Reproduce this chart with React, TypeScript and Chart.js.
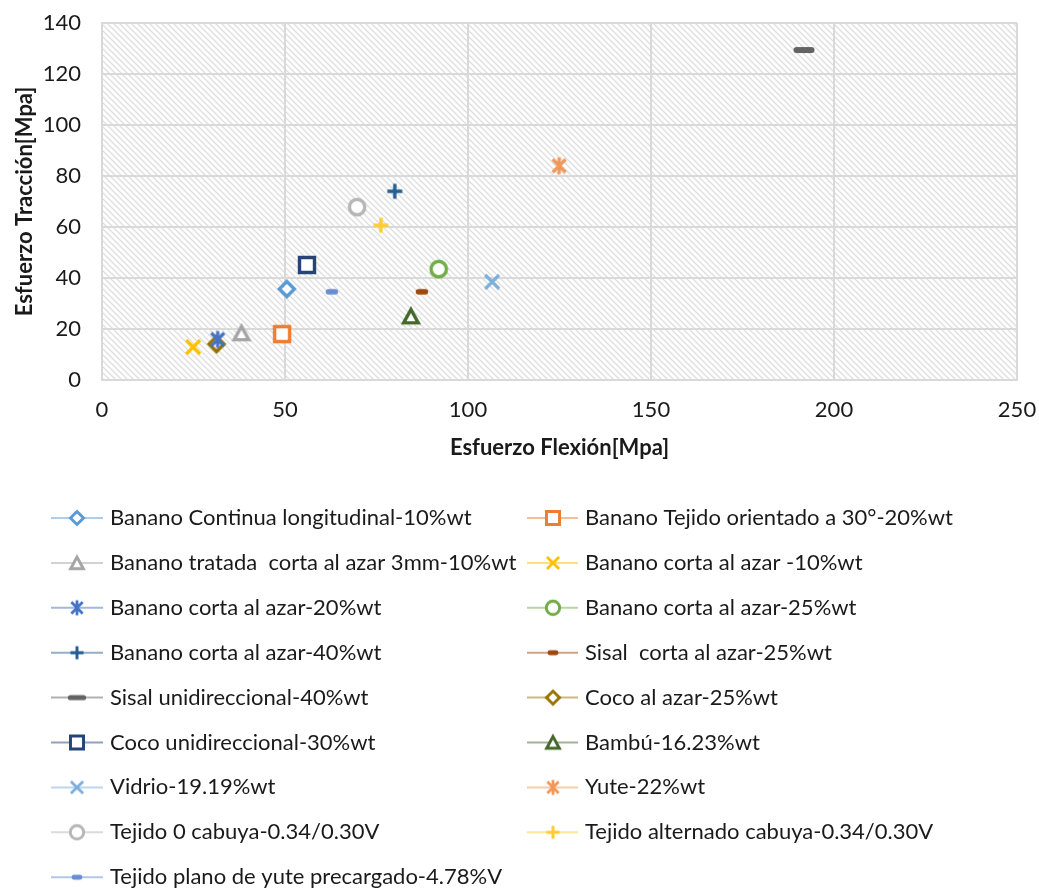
import React, { useEffect, useRef } from 'react';
import { Chart, registerables } from 'chart.js';
Chart.register(...registerables);

const seriesNames = [
  'Banano Continua longitudinal-10%wt',
  'Banano Tejido orientado a 30°-20%wt',
  'Banano tratada  corta al azar 3mm-10%wt',
  'Banano corta al azar -10%wt',
  'Banano corta al azar-20%wt',
  'Banano corta al azar-25%wt',
  'Banano corta al azar-40%wt',
  'Sisal  corta al azar-25%wt',
  'Sisal unidireccional-40%wt',
  'Coco al azar-25%wt',
  'Coco unidireccional-30%wt',
  'Bambú-16.23%wt',
  'Vidrio-19.19%wt',
  'Yute-22%wt',
  'Tejido 0 cabuya-0.34/0.30V',
  'Tejido alternado cabuya-0.34/0.30V',
  'Tejido plano de yute precargado-4.78%V',
];
const flexion = [50.5, 49.2, 38.1, 24.9, 31.6, 92, 80, 87.4, 191.8, 31.3, 56, 84.4, 106.6, 124.9, 69.7, 76.2, 62.8];
const traccion = [35.7, 18, 18.4, 12.9, 15.9, 43.5, 74, 34.6, 129.4, 14.1, 45.1, 25, 38.5, 84, 67.8, 60.7, 34.6];
const seriesColors = [
  '#5B9BD5', '#ED7D31', '#A5A5A5', '#FFC000', '#4472C4', '#70AD47',
  '#255E91', '#9E480E', '#636363', '#997300', '#264478', '#43682B',
  '#7CAFDD', '#F1975A', '#B7B7B7', '#FFCD33', '#698ED0',
];
const markerKinds = [
  'diamond', 'square', 'triangle', 'x', 'star', 'circle',
  'plus', 'dash', 'dashWide', 'diamond', 'square', 'triangle',
  'x', 'star', 'circle', 'plus', 'dash',
];
const xTicks = [0, 50, 100, 150, 200, 250];
const yTicks = [0, 20, 40, 60, 80, 100, 120, 140];
const xTitle = 'Esfuerzo Flexión[Mpa]';
const yTitle = 'Esfuerzo Tracción[Mpa]';

const FONT = 'Lato, "Open Sans", sans-serif';

function makeMarker(kind: string, color: string, scale: number): HTMLCanvasElement {
  const S = 30;
  const c = document.createElement('canvas');
  c.width = S;
  c.height = S;
  const ctx = c.getContext('2d')!;
  ctx.translate(S / 2, S / 2);
  ctx.scale(scale, scale);
  ctx.strokeStyle = color;
  ctx.fillStyle = '#ffffff';
  ctx.lineWidth = 3.4;
  ctx.lineJoin = 'miter';
  ctx.beginPath();
  switch (kind) {
    case 'diamond':
      ctx.moveTo(0, -7.5); ctx.lineTo(7.5, 0); ctx.lineTo(0, 7.5); ctx.lineTo(-7.5, 0); ctx.closePath();
      ctx.fill(); ctx.stroke();
      break;
    case 'square':
      ctx.rect(-7.5, -7.5, 15, 15);
      ctx.fill(); ctx.stroke();
      break;
    case 'triangle':
      ctx.moveTo(0, -6.8); ctx.lineTo(7.3, 6.6); ctx.lineTo(-7.3, 6.6); ctx.closePath();
      ctx.fill(); ctx.stroke();
      break;
    case 'circle':
      ctx.arc(0, 0, 7.7, 0, Math.PI * 2);
      ctx.fill(); ctx.stroke();
      break;
    case 'x':
      ctx.lineWidth = 3.2;
      ctx.moveTo(-7, -7); ctx.lineTo(7, 7); ctx.moveTo(7, -7); ctx.lineTo(-7, 7);
      ctx.stroke();
      break;
    case 'star':
      ctx.lineWidth = 3.2;
      ctx.moveTo(-6.5, -6.5); ctx.lineTo(6.5, 6.5); ctx.moveTo(6.5, -6.5); ctx.lineTo(-6.5, 6.5);
      ctx.moveTo(0, -8.5); ctx.lineTo(0, 8.5);
      ctx.stroke();
      break;
    case 'plus':
      ctx.lineWidth = 3.4;
      ctx.moveTo(-7.5, 0); ctx.lineTo(7.5, 0); ctx.moveTo(0, -7.5); ctx.lineTo(0, 7.5);
      ctx.stroke();
      break;
    case 'dash':
      ctx.lineCap = 'round';
      ctx.lineWidth = 5.5;
      ctx.moveTo(-3.5, 0); ctx.lineTo(3.5, 0);
      ctx.stroke();
      break;
    case 'dashWide':
      ctx.lineCap = 'round';
      ctx.lineWidth = 6;
      ctx.moveTo(-7.5, 0); ctx.lineTo(7.5, 0);
      ctx.stroke();
      break;
  }
  return c;
}

function makePattern(ctx: CanvasRenderingContext2D): CanvasPattern | string {
  const t = document.createElement('canvas');
  const N = 6;
  t.width = N;
  t.height = N;
  const c = t.getContext('2d')!;
  c.fillStyle = '#ffffff';
  c.fillRect(0, 0, N, N);
  c.strokeStyle = '#dedede';
  c.lineWidth = 1.3;
  c.beginPath();
  for (let k = -1; k <= 1; k++) {
    c.moveTo(k * N - 1, -1);
    c.lineTo(k * N + N + 1, N + 1);
  }
  c.stroke();
  return ctx.createPattern(t, 'repeat') || '#eeeeee';
}

function withAlpha(hex: string, a: number): string {
  const r = parseInt(hex.slice(1, 3), 16);
  const g = parseInt(hex.slice(3, 5), 16);
  const b = parseInt(hex.slice(5, 7), 16);
  return `rgba(${r},${g},${b},${a})`;
}

export default function App() {
  const ref = useRef<HTMLCanvasElement>(null);
  useEffect(() => {
    const canvas = ref.current!;
    const plotMarkers = seriesColors.map((c, i) => makeMarker(markerKinds[i], c, 1));
    const legendMarkers = seriesColors.map((c, i) => makeMarker(markerKinds[i], c, 0.87));

    const bgPlugin = {
      id: 'hatchBg',
      beforeDraw(chart: any) {
        const { ctx, chartArea } = chart;
        ctx.save();
        ctx.fillStyle = '#ffffff';
        ctx.fillRect(0, 0, chart.width, chart.height);
        ctx.fillStyle = makePattern(ctx);
        ctx.fillRect(chartArea.left, chartArea.top, chartArea.right - chartArea.left, chartArea.bottom - chartArea.top);
        ctx.restore();
      },
    };

    const legendPlugin = {
      id: 'customLegend',
      afterDraw(chart: any) {
        const ctx = chart.ctx as CanvasRenderingContext2D;
        ctx.save();
        const cols = [
          { l0: 51, l1: 103, m: 77, t: 110 },
          { l0: 527, l1: 578, m: 553, t: 585 },
        ];
        const y0 = 518;
        const dy = 44.9;
        seriesNames.forEach((name, i) => {
          const col = cols[i % 2];
          const y = y0 + Math.floor(i / 2) * dy;
          ctx.strokeStyle = withAlpha(seriesColors[i], 0.5);
          ctx.lineWidth = 2;
          ctx.beginPath();
          ctx.moveTo(col.l0, y);
          ctx.lineTo(col.l1, y);
          ctx.stroke();
          const mk = legendMarkers[i];
          ctx.drawImage(mk, col.m - mk.width / 2, y - mk.height / 2);
          ctx.fillStyle = '#1a1a1a';
          ctx.font = `22px ${FONT}`;
          ctx.textBaseline = 'middle';
          ctx.textAlign = 'left';
          ctx.fillText(name, col.t, y);
        });
        ctx.restore();
      },
    };

    const datasets = seriesNames.map((name, i) => ({
      label: name,
      data: [{ x: flexion[i], y: traccion[i] }],
      pointStyle: plotMarkers[i] as any,
      pointRadius: 10,
      pointHoverRadius: 10,
      borderColor: seriesColors[i],
      backgroundColor: seriesColors[i],
      showLine: false,
    }));

    const chart = new Chart(canvas, {
      type: 'scatter',
      data: { datasets },
      options: {
        animation: false,
        responsive: false,
        maintainAspectRatio: false,
        events: [],
        layout: { padding: { top: 23, right: 22, bottom: 418, left: 0 } },
        plugins: {
          legend: { display: false },
          tooltip: { enabled: false },
        },
        scales: {
          x: {
            type: 'linear',
            min: 0,
            max: 250,
            afterBuildTicks: (s: any) => { s.ticks = xTicks.map((v) => ({ value: v })); },
            afterFit: (s: any) => { s.height = 90; s.paddingLeft = 0; s.paddingRight = 0; },
            grid: { color: '#d9d9d9', lineWidth: 2, drawTicks: false },
            border: { display: true, color: '#d9d9d9', width: 2 },
            ticks: { padding: 17, color: '#1a1a1a', font: { family: FONT, size: 22 }, maxRotation: 0 },
            title: {
              display: true,
              text: xTitle,
              color: '#1a1a1a',
              font: { family: FONT, size: 22, weight: 'bold' },
              padding: { top: 0, bottom: 9 },
            },
          },
          y: {
            type: 'linear',
            min: 0,
            max: 140,
            afterBuildTicks: (s: any) => { s.ticks = yTicks.map((v) => ({ value: v })); },
            afterFit: (s: any) => { s.width = 102; s.paddingTop = 0; s.paddingBottom = 0; },
            grid: { color: '#d9d9d9', lineWidth: 2, drawTicks: false },
            border: { display: true, color: '#d9d9d9', width: 2 },
            ticks: { padding: 21, color: '#1a1a1a', font: { family: FONT, size: 22 } },
            title: {
              display: true,
              text: yTitle,
              color: '#1a1a1a',
              font: { family: FONT, size: 22, weight: 'bold' },
              padding: { top: 12, bottom: 0 },
            },
          },
        },
      },
      plugins: [bgPlugin, legendPlugin],
    } as any);
    return () => chart.destroy();
  }, []);

  return (
    <div style={{ position: 'fixed', left: 0, top: 0, width: 1039, height: 888, background: '#fff' }}>
      <canvas ref={ref} width={1039} height={888} style={{ display: 'block', width: 1039, height: 888 }} />
    </div>
  );
}
